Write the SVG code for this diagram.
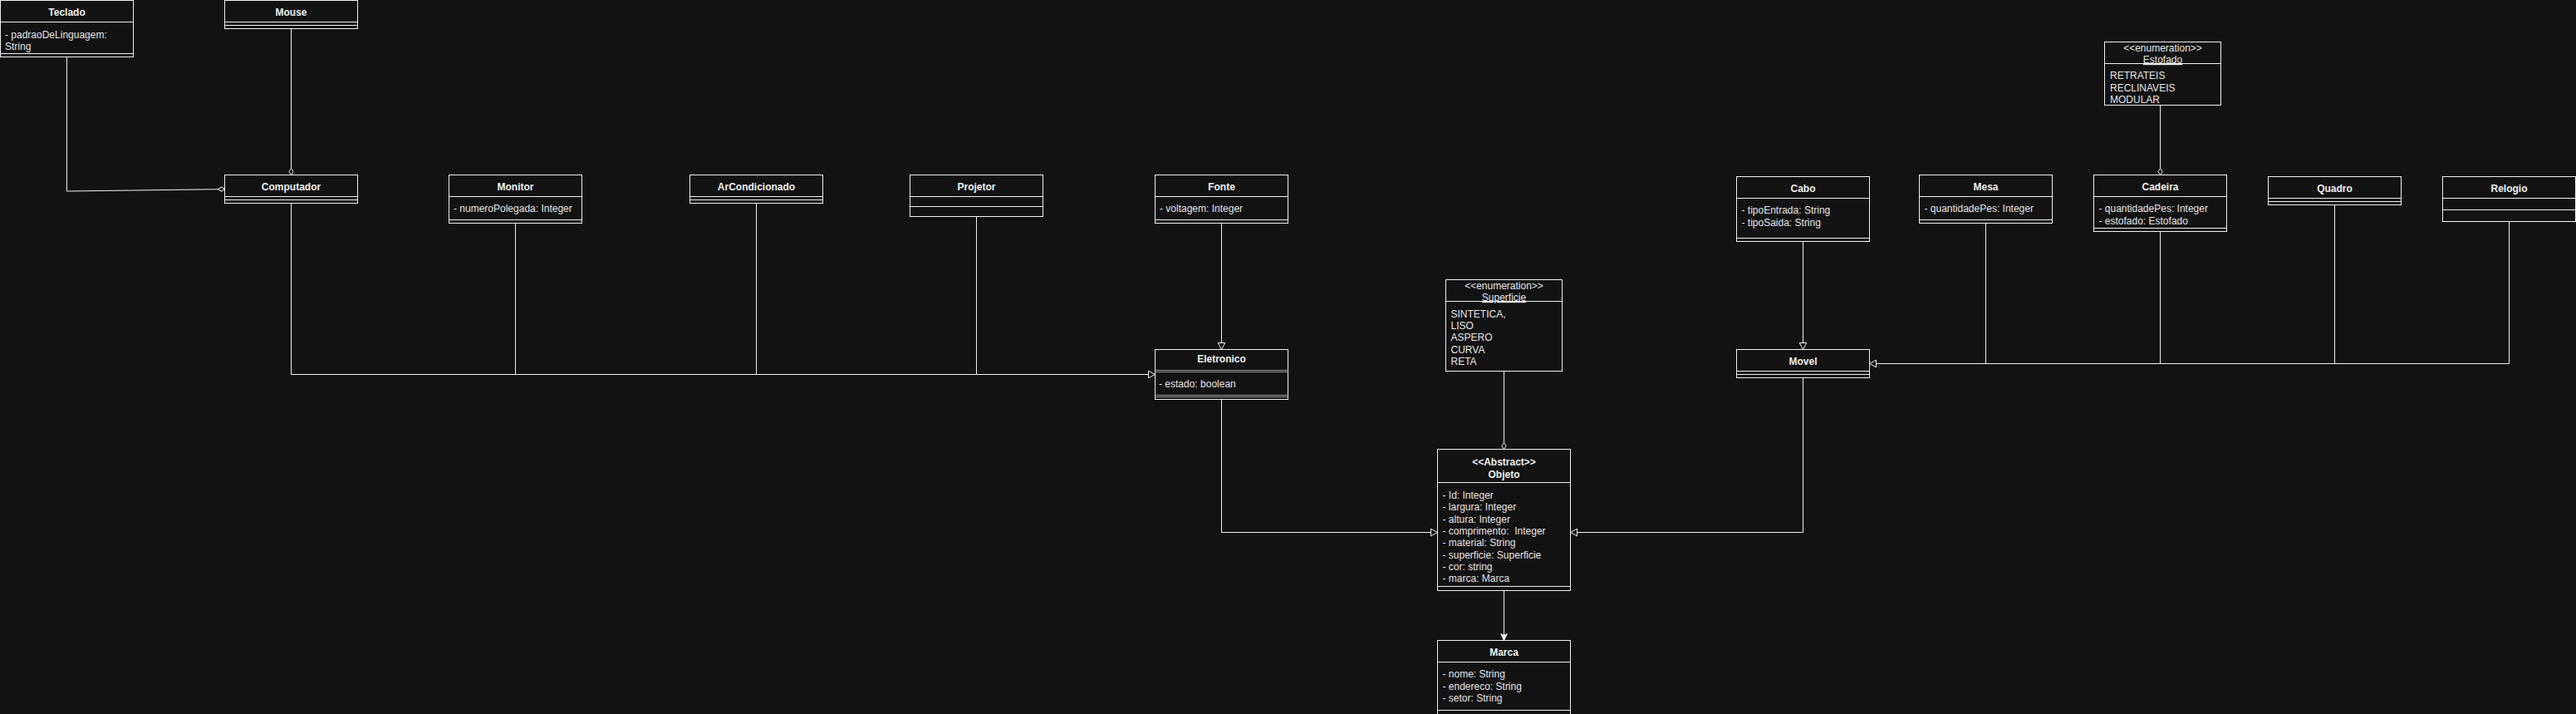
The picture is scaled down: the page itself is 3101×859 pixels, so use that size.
<svg xmlns="http://www.w3.org/2000/svg" width="3101" height="859" viewBox="0 0 3101 859">
<style>
.bg{fill:#121212}
.box{fill:#121212;stroke:#f0f0f0;stroke-width:1}
.ln{stroke:#f0f0f0;stroke-width:1;fill:none}
.gl{stroke:#9a9a9a;stroke-width:1;fill:none}
.t{font-family:"Liberation Sans",Helvetica,Arial,sans-serif;font-size:12px;fill:#f0f0f0;font-weight:bold;text-anchor:middle}
.a{font-family:"Liberation Sans",Helvetica,Arial,sans-serif;font-size:12px;fill:#e6e6e6}
.s{font-family:"Liberation Sans",Helvetica,Arial,sans-serif;font-size:12px;fill:#e6e6e6;text-anchor:middle}
.u{text-decoration:underline}
.c{stroke:#f0f0f0;stroke-width:1;fill:none}
</style>
<defs>
<marker id="dia" markerUnits="userSpaceOnUse" markerWidth="12" markerHeight="8" viewBox="-1 -4 11 8" refX="8" refY="0" orient="auto"><path d="M0,0 L4,-2.6 L8,0 L4,2.6 Z" fill="#121212" stroke="#f0f0f0" stroke-width="1"/></marker>
<marker id="tri" markerUnits="userSpaceOnUse" markerWidth="12" markerHeight="12" viewBox="-1 -6 11 12" refX="8" refY="0" orient="auto"><path d="M0,-4.3 L8,0 L0,4.3 Z" fill="#121212" stroke="#f0f0f0" stroke-width="1"/></marker>
<marker id="arr" markerUnits="userSpaceOnUse" markerWidth="12" markerHeight="12" viewBox="-1 -6 11 12" refX="8" refY="0" orient="auto"><path d="M0,-3.8 L8,0 L0,3.8 L2,0 Z" fill="#f0f0f0" stroke="#f0f0f0" stroke-width="1"/></marker>
</defs>
<rect class="bg" x="0" y="0" width="3101" height="859"/>

<g id="connectors">
<path class="c" d="M80.5,68.5 V230 L270.5,227.6" marker-end="url(#dia)"/>
<path class="c" d="M350.5,34.5 V210.5" marker-end="url(#dia)"/>
<path class="c" d="M350.5,244.5 V450.5 H1390.5" marker-end="url(#tri)"/>
<path class="c" d="M620.5,268.5 V450.5"/>
<path class="c" d="M910.5,244.5 V450.5"/>
<path class="c" d="M1175.5,260.5 V450.5"/>
<path class="c" d="M1470.5,268.5 V420.5" marker-end="url(#tri)"/>
<path class="c" d="M1470.5,480.5 V640.5 H1730.5" marker-end="url(#tri)"/>
<path class="c" d="M1810.5,446.5 V540.5" marker-end="url(#dia)"/>
<path class="c" d="M1810.5,710.5 V770.5" marker-end="url(#arr)"/>
<path class="c" d="M2170.5,290.5 V420.5" marker-end="url(#tri)"/>
<path class="c" d="M2170.5,454.5 V640.5 H1890.5" marker-end="url(#tri)"/>
<path class="c" d="M3020.5,266.5 V437.5 H2250.5" marker-end="url(#tri)"/>
<path class="c" d="M2390.5,268.5 V437.5"/>
<path class="c" d="M2600.5,270 V437.5"/>
<path class="c" d="M2810.5,246.5 V437.5"/>
<path class="c" d="M2600.5,126.5 V210.5" marker-end="url(#dia)"/>
</g>

<g id="teclado">
<rect class="box" x="0.5" y="0.5" width="160" height="68"/>
<path class="ln" d="M0.5,26.5 H160.5 M0.5,64.5 H160.5"/>
<text class="t" x="80.5" y="19">Teclado</text>
<text class="a" x="6" y="46">- padraoDeLinguagem:</text>
<text class="a" x="6" y="60">String</text>
</g>

<g id="mouse">
<rect class="box" x="270.5" y="0.5" width="160" height="34"/>
<path class="ln" d="M270.5,26.5 H430.5 M270.5,30.5 H430.5"/>
<text class="t" x="350.5" y="19">Mouse</text>
</g>

<g id="computador">
<rect class="box" x="270.5" y="210.5" width="160" height="34"/>
<path class="ln" d="M270.5,236.5 H430.5 M270.5,240.5 H430.5"/>
<text class="t" x="350.5" y="229">Computador</text>
</g>

<g id="monitor">
<rect class="box" x="540.5" y="210.5" width="160" height="58"/>
<path class="ln" d="M540.5,236.5 H700.5 M540.5,264.5 H700.5"/>
<text class="t" x="620.5" y="229">Monitor</text>
<text class="a" x="546" y="255">- numeroPolegada: Integer</text>
</g>

<g id="arcondicionado">
<rect class="box" x="830.5" y="210.5" width="160" height="34"/>
<path class="ln" d="M830.5,236.5 H990.5 M830.5,240.5 H990.5"/>
<text class="t" x="910.5" y="229">ArCondicionado</text>
</g>

<g id="projetor">
<rect class="box" x="1095.5" y="210.5" width="160" height="50"/>
<path class="ln" d="M1095.5,236.5 H1255.5 M1095.5,248.5 H1255.5"/>
<text class="t" x="1175.5" y="229">Projetor</text>
</g>

<g id="fonte">
<rect class="box" x="1390.5" y="210.5" width="160" height="58"/>
<path class="ln" d="M1390.5,236.5 H1550.5 M1390.5,264.5 H1550.5"/>
<text class="t" x="1470.5" y="229">Fonte</text>
<text class="a" x="1396" y="255">- voltagem: Integer</text>
</g>

<g id="eletronico">
<rect class="box" x="1390.5" y="420.5" width="160" height="60"/>
<path class="gl" d="M1390.5,445.5 H1550.5 M1390.5,447.5 H1550.5 M1390.5,475.5 H1550.5 M1390.5,477.5 H1550.5"/>
<text class="t" x="1470.5" y="436">Eletronico</text>
<text class="a" x="1395" y="466">- estado: boolean</text>
</g>

<g id="superficie">
<rect class="box" x="1740.5" y="336.5" width="140" height="110"/>
<text class="s" x="1810.5" y="347.5">&lt;&lt;enumeration&gt;&gt;</text>
<text class="s u" x="1810.5" y="362">Superficie</text>
<path class="ln" d="M1740.5,362.5 H1880.5"/>
<text class="a" x="1746.5" y="381.5">SINTETICA,</text>
<text class="a" x="1746.5" y="396">LISO</text>
<text class="a" x="1746.5" y="410">ASPERO</text>
<text class="a" x="1746.5" y="424.5">CURVA</text>
<text class="a" x="1746.5" y="439">RETA</text>
</g>

<g id="objeto">
<rect class="box" x="1730.5" y="540.5" width="160" height="170"/>
<path class="ln" d="M1730.5,580.5 H1890.5 M1730.5,705.5 H1890.5"/>
<text class="t" x="1810.5" y="559.5">&lt;&lt;Abstract&gt;&gt;</text>
<text class="t" x="1810.5" y="574.5">Objeto</text>
<text class="a" x="1736.5" y="599.5">- Id: Integer</text>
<text class="a" x="1736.5" y="614">- largura: Integer</text>
<text class="a" x="1736.5" y="628.5">- altura: Integer</text>
<text class="a" x="1736.5" y="642.5" xml:space="preserve">- comprimento:  Integer</text>
<text class="a" x="1736.5" y="657">- material: String</text>
<text class="a" x="1736.5" y="671.5">- superficie: Superficie</text>
<text class="a" x="1736.5" y="685.5">- cor: string</text>
<text class="a" x="1736.5" y="700">- marca: Marca</text>
</g>

<g id="marca">
<rect class="box" x="1730.5" y="770.5" width="160" height="92"/>
<path class="ln" d="M1730.5,796.5 H1890.5 M1730.5,854.5 H1890.5"/>
<text class="t" x="1810.5" y="789">Marca</text>
<text class="a" x="1736.5" y="815">- nome: String</text>
<text class="a" x="1736.5" y="830">- endereco: String</text>
<text class="a" x="1736.5" y="844">- setor: String</text>
</g>

<g id="cabo">
<rect class="box" x="2090.5" y="212.5" width="160" height="78"/>
<path class="ln" d="M2090.5,238.5 H2250.5 M2090.5,286.5 H2250.5"/>
<text class="t" x="2170.5" y="231">Cabo</text>
<text class="a" x="2096.5" y="257">- tipoEntrada: String</text>
<text class="a" x="2096.5" y="272">- tipoSaida: String</text>
</g>

<g id="movel">
<rect class="box" x="2090.5" y="420.5" width="160" height="34"/>
<path class="ln" d="M2090.5,446.5 H2250.5 M2090.5,450.5 H2250.5"/>
<text class="t" x="2170.5" y="439">Movel</text>
</g>

<g id="mesa">
<rect class="box" x="2310.5" y="210.5" width="160" height="58"/>
<path class="ln" d="M2310.5,236.5 H2470.5 M2310.5,264.5 H2470.5"/>
<text class="t" x="2390.5" y="229">Mesa</text>
<text class="a" x="2316.5" y="255">- quantidadePes: Integer</text>
</g>

<g id="cadeira">
<rect class="box" x="2520.5" y="210.5" width="160" height="68"/>
<path class="ln" d="M2520.5,236.5 H2680.5 M2520.5,274.5 H2680.5"/>
<text class="t" x="2600.5" y="229">Cadeira</text>
<text class="a" x="2526.5" y="255">- quantidadePes: Integer</text>
<text class="a" x="2526.5" y="270">- estofado: Estofado</text>
</g>

<g id="estofado">
<rect class="box" x="2533.5" y="50.5" width="140" height="76"/>
<text class="s" x="2603.5" y="61.5">&lt;&lt;enumeration&gt;&gt;</text>
<text class="s u" x="2603.5" y="76">Estofado</text>
<path class="ln" d="M2533.5,76.5 H2673.5"/>
<text class="a" x="2540" y="95">RETRATEIS</text>
<text class="a" x="2540" y="110">RECLINAVEIS</text>
<text class="a" x="2540" y="124">MODULAR</text>
</g>

<g id="quadro">
<rect class="box" x="2730.5" y="212.5" width="160" height="34"/>
<path class="ln" d="M2730.5,238.5 H2890.5 M2730.5,242.5 H2890.5"/>
<text class="t" x="2810.5" y="231">Quadro</text>
</g>

<g id="relogio">
<rect class="box" x="2940.5" y="212.5" width="160" height="54"/>
<path class="ln" d="M2940.5,238.5 H3100.5 M2940.5,252.5 H3100.5"/>
<text class="t" x="3020.5" y="231">Relogio</text>
</g>
</svg>
